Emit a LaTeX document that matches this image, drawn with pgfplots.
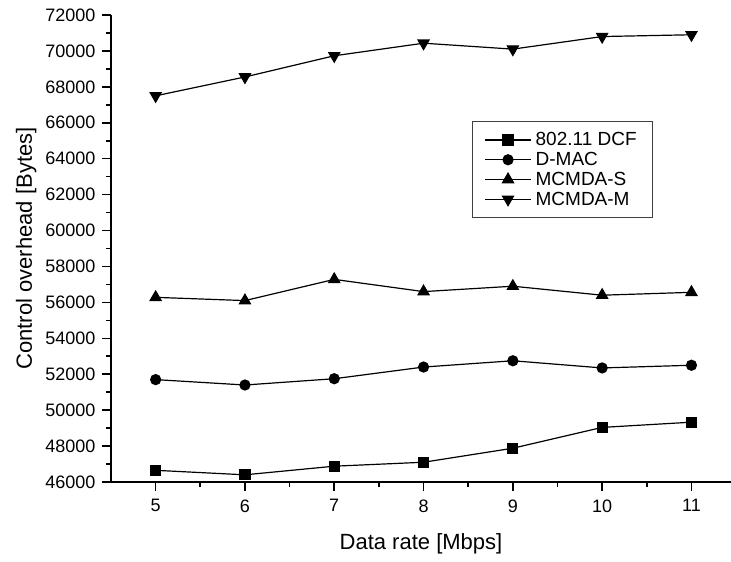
\documentclass[border=0pt]{standalone}
\usepackage{fontspec}
\setmainfont{Liberation Sans}
\usepackage{pgfplots}
\pgfplotsset{compat=1.18}
\begin{document}
\begin{tikzpicture}
\begin{axis}[
  at={(111pt,80pt)}, anchor=south west,
  scale only axis, width=620pt, height=467pt,
  xmin=4.5, xmax=11.443, ymin=46000, ymax=72000,
  axis x line=bottom, axis y line=left,
  axis line style={-, line width=2pt},
  xtick={5,6,7,8,9,10,11}, minor x tick num=1,
  ytick={46000,48000,...,72000}, minor y tick num=1,
  scaled y ticks=false,
  /pgf/number format/1000 sep={},
  /pgf/number format/assume math mode=true,
  tick align=outside,
  major tick length=9pt, minor tick length=5pt,
  every tick/.style={black, line width=1.6pt},
  ticklabel style={font=\fontsize{18}{20}\selectfont},
  xticklabel style={yshift=-5pt},
  yticklabel style={xshift=-3pt},
  xlabel={Data rate [Mbps]}, ylabel={Control overhead [Bytes]},
  label style={font=\fontsize{22}{26}\selectfont},
  xlabel style={yshift=-14pt},
  ylabel style={yshift=2pt},
  legend cell align=left,
  legend style={at={(rel axis cs:0.582,0.773)}, anchor=north west,
    draw=black!75, line width=1.2pt, font=\fontsize{19}{22}\selectfont,
    inner xsep=12pt, inner ysep=9pt, row sep=1pt,
    nodes={inner xsep=4pt}},
  legend image code/.code={
    \draw[black, mark repeat=2, mark phase=2, line width=1.2pt]
      plot coordinates {(0pt,0pt) (23pt,0pt) (46pt,0pt)};},
]
\addplot[black, line width=1.2pt, mark=square*, mark size=5pt, mark options={solid, fill=black}] coordinates {
  (5,46650) (6,46400) (7,46880) (8,47100) (9,47880) (10,49040) (11,49330)};
\addlegendentry{802.11 DCF}
\addplot[black, line width=1.2pt, mark=*, mark size=5pt, mark options={solid, fill=black}] coordinates {
  (5,51700) (6,51400) (7,51750) (8,52400) (9,52750) (10,52350) (11,52500)};
\addlegendentry{D-MAC}
\addplot[black, line width=1.2pt, mark=triangle*, mark size=6.3pt, mark options={solid, fill=black}] coordinates {
  (5,56280) (6,56100) (7,57280) (8,56600) (9,56900) (10,56400) (11,56560)};
\addlegendentry{MCMDA-S}
\addplot[black, line width=1.2pt, mark=triangle*, mark size=6.3pt, mark options={solid, fill=black, rotate=180}] coordinates {
  (5,67500) (6,68550) (7,69730) (8,70430) (9,70100) (10,70800) (11,70900)};
\addlegendentry{MCMDA-M}
\end{axis}
\pgfresetboundingbox
\path (0pt,0pt) rectangle (731pt,562pt);
\end{tikzpicture}
\end{document}
